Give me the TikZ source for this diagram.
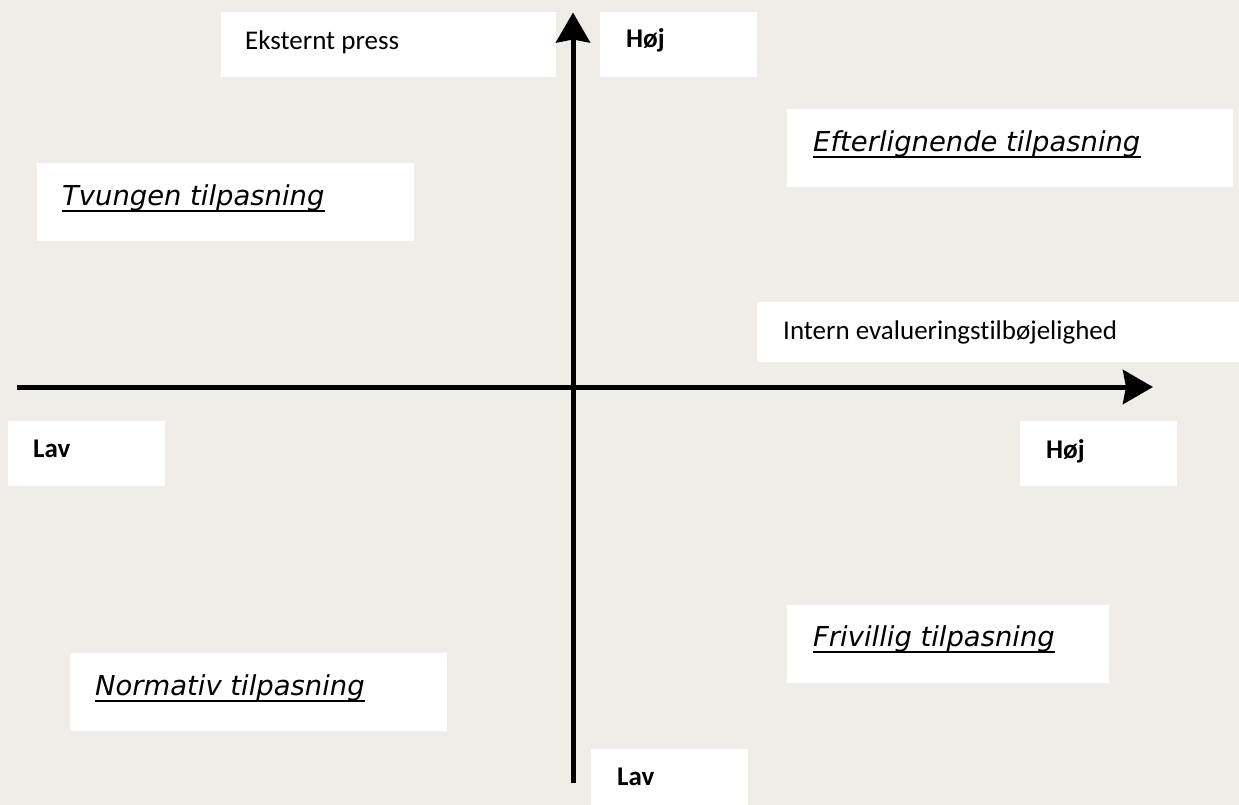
\documentclass[tikz,border=0pt]{standalone}
\usepackage{fontspec}
\setmainfont{Carlito}[Ligatures=NoCommon]
\newfontfamily\oblfont{DejaVu Sans}
\usetikzlibrary{arrows.meta,calc}
\definecolor{bg}{RGB}{240,237,232}
\begin{document}
\begin{tikzpicture}[x=1bp,y=-1bp,
  box/.style={fill=white, draw=none},
  lbl/.style={anchor=base west, inner sep=0pt, font=\fontsize{27bp}{30bp}\selectfont},
  boldlbl/.style={anchor=base west, inner sep=0pt, font=\fontsize{27bp}{30bp}\selectfont\bfseries},
  quad/.style={anchor=base west, inner sep=0pt, font=\oblfont\itshape\fontsize{27.4bp}{30bp}\selectfont},
  ul/.style={line width=2bp},
  axis/.style={line width=5bp, -{Stealth[length=30bp,width=34bp,inset=3bp]}}]
\fill[bg] (0,0) rectangle (1239,805);
\useasboundingbox (0,0) rectangle (1239,805);
% boxes
\fill[box] (221,12) rectangle (556,77);
\fill[box] (600,12) rectangle (757,77);
\fill[box] (37,163) rectangle (414,241);
\fill[box] (787,109) rectangle (1233,187);
\fill[box] (757,302) rectangle (1239,362);
\fill[box] (8,421) rectangle (165,486);
\fill[box] (1020,421) rectangle (1177,486);
\fill[box] (787,605) rectangle (1109,683);
\fill[box] (70,653) rectangle (447,731);
\fill[box] (591,749) rectangle (748,805);
% texts
\node[lbl] (eks) at (245,50) {Eksternt press};
\node[boldlbl] (hojt) at (626,48) {Høj};
\node[quad] (tvu) at (62,205) {Tvungen tilpasning};
\node[quad] (eft) at (813,151.5) {Efterlignende tilpasning};
\node[lbl] (int) at (783,339) {Intern evalueringstilbøjelighed};
\node[boldlbl] (lavl) at (33,457) {Lav};
\node[boldlbl] (hojr) at (1046,458) {Høj};
\node[quad] (fri) at (813,646.5) {Frivillig tilpasning};
\node[quad] (nor) at (95,695) {Normativ tilpasning};
\node[boldlbl] (lavb) at (617,785) {Lav};
% underlines
\foreach \n in {tvu,eft,fri,nor}
  \draw[ul] ($(\n.base west)+(0,5.5)$) -- ($(\n.base east)+(0,5.5)$);
% axes
\coordinate (vs) at (573,783);
\coordinate (ve) at (573,12.5);
\coordinate (hs) at (17,387);
\coordinate (he) at (1153,387);
\draw[axis] (vs) -- (ve);
\draw[axis] (hs) -- (he);
\end{tikzpicture}
\end{document}
